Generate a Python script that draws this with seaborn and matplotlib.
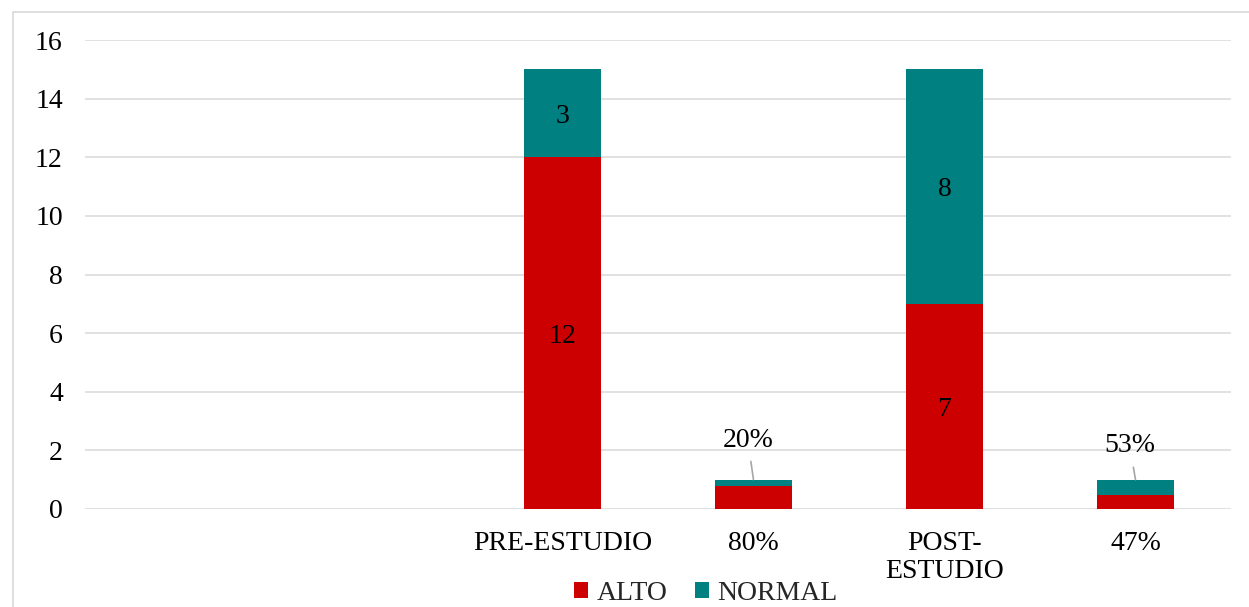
import numpy as np
import pandas as pd
import seaborn as sns
import matplotlib
matplotlib.use("Agg")
import matplotlib.pyplot as plt
from matplotlib.patches import Patch
from matplotlib.lines import Line2D

# Categories (the two leading slots are empty placeholders on the axis)
categories = ["", " ", "PRE-ESTUDIO", "80%", "POST-\nESTUDIO", "47%"]
alto = [np.nan, np.nan, 12, 0.80, 7, 0.47]
normal = [np.nan, np.nan, 3, 0.20, 8, 0.53]
# Labels written on the NORMAL segments
normal_labels = [None, None, "3", "20%", "8", "53%"]
alto_labels = [None, None, "12", None, "7", None]

RED = "#CC0000"
TEAL = "#008080"
GRID = "#D9D9D9"

sns.set_theme(style="white")
plt.rcParams["font.family"] = ["Liberation Serif", "DejaVu Serif"]

df = pd.DataFrame({"cat": categories, "alto": alto, "normal": normal})
df["total"] = df["alto"] + df["normal"]

fig = plt.figure(figsize=(12.49, 6.07), dpi=100)
ax = fig.add_axes([85 / 1249, 1 - 509 / 607, (1231 - 85) / 1249, (509 - 40) / 607])

# Stacked bars: full total in teal, ALTO part overlaid in red
sns.barplot(data=df, x="cat", y="total", order=categories, color=TEAL,
            width=0.4, linewidth=0, saturation=1, ax=ax, zorder=3)
sns.barplot(data=df, x="cat", y="alto", order=categories, color=RED,
            width=0.4, linewidth=0, saturation=1, ax=ax, zorder=3)

ax.set_ylim(0, 16)
ax.set_xlim(-0.5, len(categories) - 0.5)
ax.set_yticks(range(0, 17, 2))
ax.yaxis.grid(True, color=GRID, linewidth=1.1, zorder=0)
ax.set_axisbelow(True)
for s in ax.spines.values():
    s.set_visible(False)
ax.set_xlabel("")
ax.set_ylabel("")
ax.tick_params(axis="y", length=0, pad=16, labelsize=20, labelcolor="#000000")
ax.tick_params(axis="x", length=0, pad=16, labelsize=20, labelcolor="#000000")
ax.set_xticks(range(len(categories)))
ax.set_xticklabels(categories, linespacing=1.15, va="top")

# Value labels
for i, (a, n) in enumerate(zip(alto, normal)):
    if normal_labels[i] is None:
        continue
    total = a + n
    if n >= 1:
        ax.text(i, a + n / 2 - 0.1, normal_labels[i], ha="center", va="center",
                fontsize=20, color="#000000", zorder=4)
    else:
        lift = 1.35 if n < 0.5 else 1.15
        ax.annotate(normal_labels[i], xy=(i, total), xytext=(i - 0.03, total + lift),
                    ha="center", va="center", fontsize=20, color="#000000",
                    arrowprops=dict(arrowstyle="-", color="#A6A6A6", lw=1.2,
                                    shrinkA=4, shrinkB=0), zorder=4)
    if alto_labels[i] is not None:
        ax.text(i, a / 2 - 0.1, alto_labels[i], ha="center", va="center",
                fontsize=20, color="#000000", zorder=4)

# Legend along the bottom edge
handles = [Patch(facecolor=RED, edgecolor="none", label="ALTO"),
           Patch(facecolor=TEAL, edgecolor="none", label="NORMAL")]
fig.legend(handles=handles, loc="center", bbox_to_anchor=(706 / 1249, 1 - 593 / 607),
           ncol=2, frameon=False, fontsize=20, handlelength=0.5, handleheight=0.5,
           handletextpad=0.3, columnspacing=1.0, borderpad=0)

# Chart-area border (top and left edges)
fig.add_artist(Line2D([12.5 / 1249, 1.0], [1 - 11.5 / 607, 1 - 11.5 / 607],
                      color=GRID, linewidth=1.2, transform=fig.transFigure))
fig.add_artist(Line2D([12.5 / 1249, 12.5 / 1249], [0.0, 1 - 11.5 / 607],
                      color=GRID, linewidth=1.2, transform=fig.transFigure))

fig.savefig("out.png", dpi=100, facecolor="white")
